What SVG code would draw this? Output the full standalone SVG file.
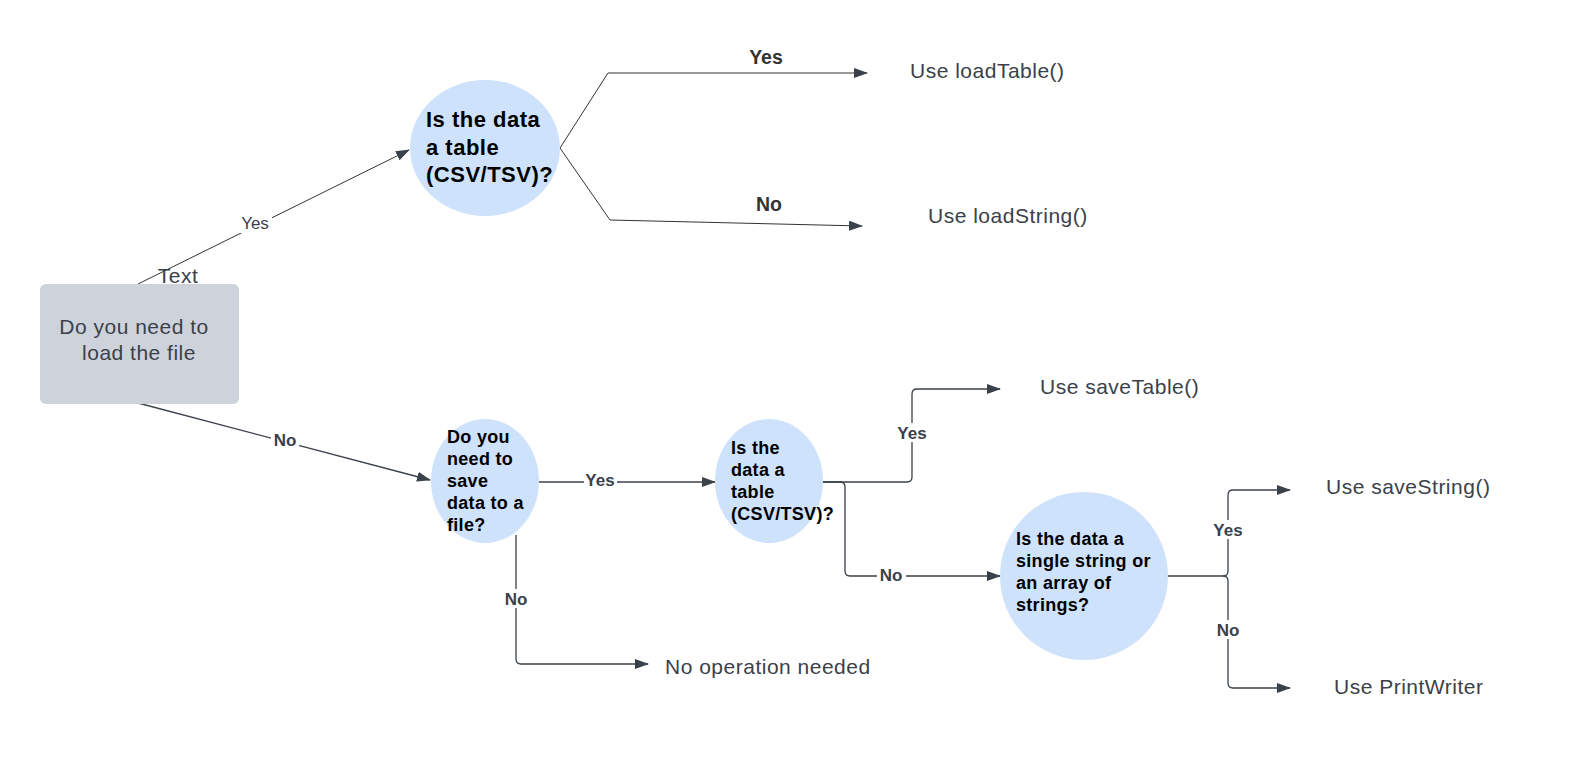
<svg xmlns="http://www.w3.org/2000/svg" width="1571" height="760" viewBox="0 0 1571 760">
<style>
.txt{font-family:"Liberation Sans",Arial,sans-serif;fill:#3a414a;font-size:21px;letter-spacing:0.5px}
.nd{font-family:"Liberation Sans",Arial,sans-serif;fill:#000;font-weight:bold}
.lbl{font-family:"Liberation Sans",Arial,sans-serif;fill:#3a414a;font-size:17px;text-anchor:middle}
.lblb{font-family:"Liberation Sans",Arial,sans-serif;fill:#333;font-size:19.5px;font-weight:bold;text-anchor:middle}
.c{fill:none;stroke:#3a414a;stroke-width:1.3}
.c2{fill:none;stroke:#333;stroke-width:1}
.bub{fill:#cfe2fc}
.bg{fill:#fff}
</style>
<defs>
<marker id="ah" viewBox="0 0 14 10" refX="13" refY="5" markerWidth="14" markerHeight="10" markerUnits="userSpaceOnUse" orient="auto">
<path d="M0,0 L14,5 L0,10 z" fill="#3a414a"/>
</marker>
</defs>
<rect width="1571" height="760" fill="#fff"/>
<g id="connectors">
<path class="c2" d="M138,284 L409,150" marker-end="url(#ah)"/>
<path class="c2" d="M560,148 L608,73 L867,73" marker-end="url(#ah)"/>
<path class="c2" d="M560,148 L610,220 L862,226" marker-end="url(#ah)"/>
<path class="c" d="M138,403 L430,480" marker-end="url(#ah)"/>
<path class="c" d="M539,482 L715,482" marker-end="url(#ah)"/>
<path class="c" d="M516,535 L516,659 Q516,664 521,664 L648,664" marker-end="url(#ah)"/>
<path class="c" d="M823,482 L907,482 Q912,482 912,477 L912,394 Q912,389 917,389 L1000,389" marker-end="url(#ah)"/>
<path class="c" d="M823,482 L840,482 Q845,482 845,487 L845,571 Q845,576 850,576 L1000,576" marker-end="url(#ah)"/>
<path class="c" d="M1168,576 L1223,576 Q1228,576 1228,571 L1228,495 Q1228,490 1233,490 L1290,490" marker-end="url(#ah)"/>
<path class="c" d="M1223,576 Q1228,576 1228,581 L1228,683 Q1228,688 1233,688 L1290,688" marker-end="url(#ah)"/>
<rect class="bg" x="238" y="213" width="34" height="20"/>
<text class="lbl" x="255" y="229">Yes</text>
<text class="lblb" x="766" y="64">Yes</text>
<text class="lblb" x="769" y="211">No</text>
<rect class="bg" x="271" y="431" width="28" height="18"/>
<text class="lbl" x="285" y="446" font-weight="bold">No</text>
<rect class="bg" x="584" y="471" width="33" height="18"/>
<text class="lbl" x="600" y="486" font-size="18" font-weight="bold">Yes</text>
<rect class="bg" x="502" y="589" width="28" height="19"/>
<text class="lbl" x="516" y="605" font-size="17.5" font-weight="bold">No</text>
<rect class="bg" x="894" y="423" width="36" height="19"/>
<text class="lbl" x="912" y="439" font-size="17.5" font-weight="bold">Yes</text>
<rect class="bg" x="877" y="565" width="29" height="19"/>
<text class="lbl" x="891" y="581" font-size="17.5" font-weight="bold">No</text>
<rect class="bg" x="1210" y="520" width="36" height="19"/>
<text class="lbl" x="1228" y="536" font-size="17.5" font-weight="bold">Yes</text>
<rect class="bg" x="1213" y="620" width="30" height="19"/>
<text class="lbl" x="1228" y="636" font-size="17.5" font-weight="bold">No</text>
</g>
<g id="start">
<rect x="40" y="284" width="199" height="120" rx="6" fill="#ced3db"/>
<text class="txt" x="134" y="334" text-anchor="middle">Do you need to</text>
<text class="txt" x="139" y="360" text-anchor="middle">load the file</text>
<text class="txt" x="178" y="283" text-anchor="middle" font-size="20" letter-spacing="1.5">Text</text>
</g>
<g id="q-table-load">
<ellipse class="bub" cx="485" cy="148" rx="75" ry="68"/>
<text class="nd" font-size="22" letter-spacing="0.5"><tspan x="426" y="127">Is the data</tspan><tspan x="426" y="155">a table</tspan><tspan x="426" y="182">(CSV/TSV)?</tspan></text>
</g>
<g id="use-loadtable"><text class="txt" x="910" y="78">Use loadTable()</text></g>
<g id="use-loadstring"><text class="txt" x="928" y="223">Use loadString()</text></g>
<g id="q-save">
<ellipse class="bub" cx="485" cy="481" rx="54" ry="62"/>
<text class="nd" font-size="18" letter-spacing="0.3"><tspan x="447" y="443">Do you</tspan><tspan x="447" y="465">need to</tspan><tspan x="447" y="487">save</tspan><tspan x="447" y="509">data to a</tspan><tspan x="447" y="531">file?</tspan></text>
</g>
<g id="no-op"><text class="txt" x="665" y="674">No operation needed</text></g>
<g id="q-table-save">
<ellipse class="bub" cx="769" cy="481" rx="54" ry="62"/>
<text class="nd" font-size="18" letter-spacing="0.3"><tspan x="731" y="454">Is the</tspan><tspan x="731" y="476">data a</tspan><tspan x="731" y="498">table</tspan><tspan x="731" y="520">(CSV/TSV)?</tspan></text>
</g>
<g id="use-savetable"><text class="txt" x="1040" y="394">Use saveTable()</text></g>
<g id="q-string">
<circle class="bub" cx="1084" cy="576" r="84"/>
<text class="nd" font-size="18" letter-spacing="0.3"><tspan x="1016" y="545">Is the data a</tspan><tspan x="1016" y="567">single string or</tspan><tspan x="1016" y="589">an array of</tspan><tspan x="1016" y="611">strings?</tspan></text>
</g>
<g id="use-savestring"><text class="txt" x="1326" y="494">Use saveString()</text></g>
<g id="use-printwriter"><text class="txt" x="1334" y="694">Use PrintWriter</text></g>
</svg>
